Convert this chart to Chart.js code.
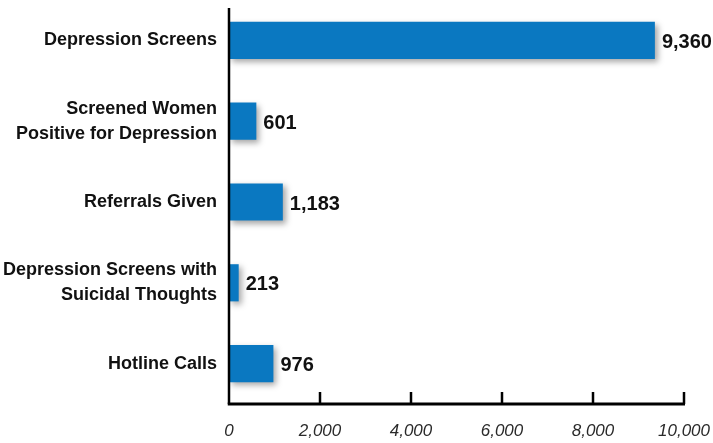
<!DOCTYPE html>
<html>
<head>
<meta charset="utf-8">
<script src="https://cdn.jsdelivr.net/npm/chart.js@4/dist/chart.umd.min.js"></script>
<style>
  body { margin: 0; background: #fff; }
  #wrap { width: 713px; height: 443px; }
</style>
</head>
<body>
<div id="wrap"><canvas id="myChart" width="713" height="443"></canvas></div>
<script>
const categories = [
    ["Depression Screens"],
    ["Screened Women", "Positive for Depression"],
    ["Referrals Given"],
    ["Depression Screens with", "Suicidal Thoughts"],
    ["Hotline Calls"],
];
const counts = [9360, 601, 1183, 213, 976];
const tickValues = [0, 2000, 4000, 6000, 8000, 10000];

const FONT = "'Liberation Sans', Arial, sans-serif";
const ctx = document.getElementById("myChart");

// ombra sotto le barre
const shadowPlugin = {
    id: "barShadow",
    beforeDatasetsDraw(chart) {
        const c = chart.ctx;
        c.save();
        c.shadowColor = "rgba(0,0,0,0.35)";
        c.shadowBlur = 6;
        c.shadowOffsetX = 3;
        c.shadowOffsetY = 3;
    },
    afterDatasetsDraw(chart) {
        chart.ctx.restore();
    },
};

// etichette dei valori + assi
const extrasPlugin = {
    id: "extras",
    afterDatasetsDraw(chart) {
        const c = chart.ctx;
        const area = chart.chartArea;
        const xs = chart.scales.x;

        // asse verticale
        c.save();
        c.strokeStyle = "#000";
        c.lineWidth = 2.5;
        c.beginPath();
        c.moveTo(area.left, area.top + 8);
        c.lineTo(area.left, area.bottom);
        c.stroke();

        // asse orizzontale con tacche verso l'alto
        c.lineWidth = 3;
        c.beginPath();
        c.moveTo(area.left - 1.25, area.bottom);
        c.lineTo(area.right + 1, area.bottom);
        c.stroke();
        c.lineWidth = 2.5;
        tickValues.forEach((v) => {
            if (v === 0) return;
            const px = xs.getPixelForValue(v);
            c.beginPath();
            c.moveTo(px, area.bottom);
            c.lineTo(px, area.bottom - 12);
            c.stroke();
        });

        // valori a destra delle barre
        c.fillStyle = "#111";
        c.font = "bold 20px " + FONT;
        c.textAlign = "left";
        c.textBaseline = "middle";
        const meta = chart.getDatasetMeta(0);
        meta.data.forEach((bar, i) => {
            c.fillText(counts[i].toLocaleString("en-US"), bar.x + 7, bar.y + 2);
        });
        c.restore();
    },
};

new Chart(ctx, {
    type: "bar",
    data: {
        labels: categories,
        datasets: [
            {
                data: counts,
                backgroundColor: "#0a78c1",
                borderWidth: 0,
                barPercentage: 0.46,
                categoryPercentage: 1,
            },
        ],
    },
    options: {
        indexAxis: "y",
        responsive: false,
        animation: false,
        layout: { padding: { top: 0, right: 29, bottom: 0, left: 0 } },
        plugins: {
            legend: { display: false },
            tooltip: { enabled: false },
        },
        scales: {
            x: {
                min: 0,
                max: 10000,
                afterBuildTicks(scale) {
                    scale.ticks = tickValues.map((v) => ({ value: v }));
                },
                afterFit(scale) {
                    scale.height = 39;
                    scale.paddingLeft = 0;
                    scale.paddingRight = 0;
                },
                grid: { display: false, drawTicks: false },
                border: { display: false },
                ticks: {
                    padding: 17,
                    color: "#2a2a2a",
                    font: { family: FONT, size: 17, style: "italic" },
                    callback: (v) => Number(v).toLocaleString("en-US"),
                    maxRotation: 0,
                },
            },
            y: {
                afterFit(scale) {
                    scale.width = 229;
                    scale.paddingTop = 0;
                    scale.paddingBottom = 0;
                },
                grid: { display: false, drawTicks: false },
                border: { display: false },
                ticks: {
                    padding: 12,
                    color: "#111",
                    font: { family: FONT, size: 18, weight: "bold", lineHeight: 1.4 },
                },
            },
        },
    },
    plugins: [shadowPlugin, extrasPlugin],
});
</script>
</body>
</html>
